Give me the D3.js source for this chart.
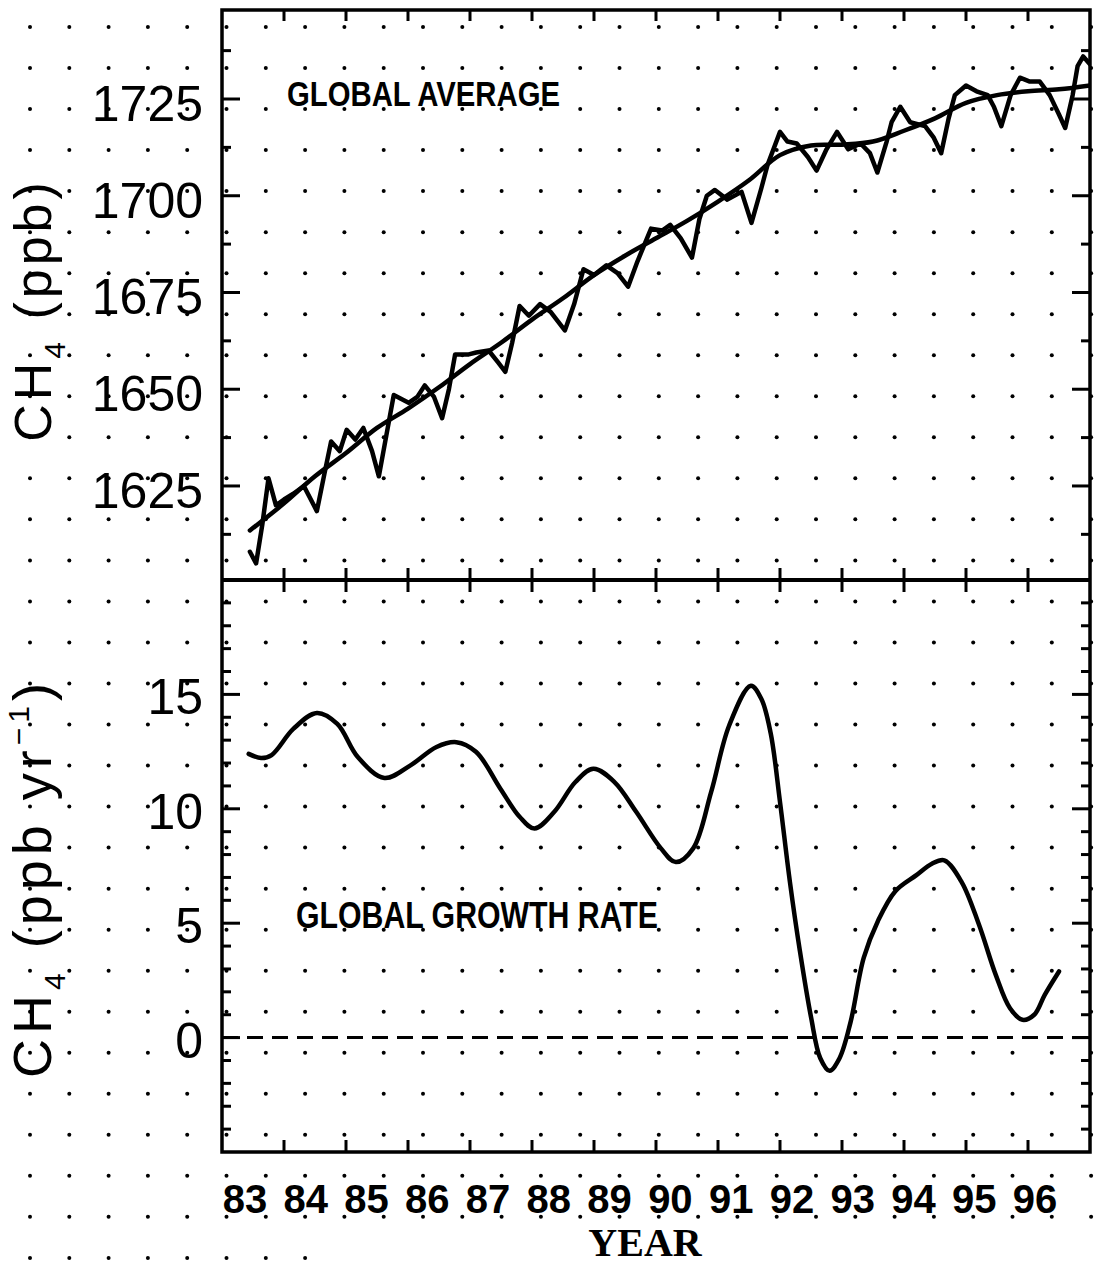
<!DOCTYPE html>
<html>
<head>
<meta charset="utf-8">
<script src="https://cdn.jsdelivr.net/npm/d3@7"></script>
<style>
  html, body { margin: 0; padding: 0; background: #fff; }
  svg { display: block; }
</style>
</head>
<body>
<svg id="chart" width="1097" height="1264"></svg>
<script>
// ---- Data -------------------------------------------------------------
// Year ticks along the shared time axis
const years = [1984, 1985, 1986, 1987, 1988, 1989, 1990, 1991, 1992, 1993, 1994, 1995, 1996];
const yearLabels = ["83", "84", "85", "86", "87", "88", "89", "90", "91", "92", "93", "94", "95", "96"];
const labelYears = [1983, 1984, 1985, 1986, 1987, 1988, 1989, 1990, 1991, 1992, 1993, 1994, 1995, 1996];

// Global average CH4 (ppb), individual values
const avgYear = [1983.45, 1983.55, 1983.65, 1983.75, 1983.87, 1984.0, 1984.15, 1984.32, 1984.53, 1984.65,
  1984.76, 1984.9, 1985.01, 1985.15, 1985.28, 1985.42, 1985.53, 1985.65, 1985.77, 1986.01,
  1986.15, 1986.27, 1986.42, 1986.55, 1986.66, 1986.76, 1986.98, 1987.1, 1987.3, 1987.45,
  1987.57, 1987.68, 1987.8, 1987.95, 1988.13, 1988.3, 1988.53, 1988.68, 1988.83, 1989.0,
  1989.2, 1989.38, 1989.55, 1989.7, 1989.92, 1990.1, 1990.23, 1990.4, 1990.58, 1990.7,
  1990.82, 1990.95, 1991.15, 1991.38, 1991.54, 1991.7, 1991.8, 1992.0, 1992.12, 1992.27,
  1992.45, 1992.59, 1992.75, 1992.92, 1993.1, 1993.3, 1993.45, 1993.57, 1993.72, 1993.8,
  1993.94, 1994.1, 1994.34, 1994.48, 1994.6, 1994.72, 1994.82, 1995.0, 1995.17, 1995.35,
  1995.45, 1995.57, 1995.72, 1995.87, 1996.03, 1996.19, 1996.35, 1996.5, 1996.6, 1996.72,
  1996.8, 1996.89, 1997.0];
const avgPpb = [1608, 1605, 1615, 1627, 1620, 1621.5, 1623, 1625, 1618.5, 1628,
  1636.5, 1634, 1639.5, 1637, 1640, 1634, 1627.5, 1638, 1648.5, 1646.5,
  1648, 1651, 1648, 1642.5, 1650, 1659, 1659, 1659.5, 1660, 1657,
  1654.5, 1662, 1671.5, 1669, 1672, 1670, 1665.2, 1672, 1681, 1679.5,
  1682, 1680, 1676.5, 1683, 1691.5, 1691, 1692.5, 1689, 1684, 1694,
  1700, 1701.5, 1699, 1701, 1693, 1702, 1708, 1716.5, 1714, 1713.5,
  1710, 1706.5, 1712, 1716.5, 1712, 1713.5, 1711, 1706, 1714, 1719,
  1723, 1719, 1718, 1715, 1711, 1720, 1726, 1728.5, 1727, 1726,
  1723, 1718, 1726, 1730.5, 1729.5, 1729.5, 1726, 1721, 1717.5, 1726,
  1733.5, 1736, 1734];

// Smoothed trend of the global average (ppb)
const trendYear = [1983.45, 1984.0, 1984.5, 1985.0, 1985.5, 1986.0, 1986.5, 1987.0, 1987.5, 1988.0,
  1988.5, 1989.0, 1989.5, 1990.0, 1990.5, 1991.0, 1991.5, 1992.0, 1992.5, 1993.0,
  1993.5, 1994.0, 1994.5, 1995.0, 1995.5, 1996.0, 1996.5, 1997.0];
const trendPpb = [1613.5, 1620.5, 1627.5, 1633.5, 1640, 1645, 1650.5, 1656.5, 1662, 1668,
  1673.5, 1679.5, 1684.5, 1689, 1693.5, 1698.5, 1704, 1710.5, 1713, 1713.2,
  1714, 1716.8, 1720, 1724, 1726, 1727, 1727.5, 1728.5];

// Global growth rate (ppb per year)
const rateYear = [1983.43, 1983.63, 1983.8, 1984.15, 1984.53, 1984.86, 1985.19, 1985.62, 1986.04, 1986.46,
  1986.78, 1987.1, 1987.49, 1987.8, 1988.04, 1988.36, 1988.7, 1988.99, 1989.33, 1989.68,
  1990.08, 1990.32, 1990.6, 1990.89, 1991.18, 1991.53, 1991.7, 1991.85, 1992.0, 1992.16,
  1992.32, 1992.5, 1992.65, 1992.8, 1992.96, 1993.14, 1993.35, 1993.58, 1993.86, 1994.2,
  1994.45, 1994.65, 1994.93, 1995.21, 1995.48, 1995.71, 1995.91, 1996.1, 1996.27, 1996.5];
const rateValue = [12.4, 12.22, 12.35, 13.49, 14.19, 13.71, 12.26, 11.35, 11.9, 12.7,
  12.91, 12.48, 10.88, 9.65, 9.14, 9.87, 11.17, 11.75, 11.17, 9.87,
  8.27, 7.67, 8.27, 10.74, 13.64, 15.38, 14.8, 13.3, 10.3, 6.8,
  3.8, 0.9, -0.9, -1.45, -0.9, 0.7, 3.48, 5.1, 6.4, 7.1,
  7.6, 7.75, 6.8, 4.93, 2.74, 1.28, 0.78, 1.0, 1.87, 2.89];

const ppbTicks = [1625, 1650, 1675, 1700, 1725];
const ppbMinor = [1612.5, 1637.5, 1662.5, 1687.5, 1712.5, 1737.5];
const rateTicks = [0, 5, 10, 15];
const rateMinor = d3.range(-4, 20).filter(v => v % 5 !== 0);

// ---- Layout -----------------------------------------------------------
const W = 1097, H = 1264;
const L = 222, R = 1090, T = 10, M = 580, B = 1152;

const svg = d3.select("#chart");
svg.append("rect").attr("width", W).attr("height", H).attr("fill", "#fff");

const x = d3.scaleLinear().domain([1983, 1997]).range([L, R]);
const yTop = d3.scaleLinear().domain([1600.7, 1748]).range([M, T]);
const yBot = d3.scaleLinear().domain([-5, 20]).range([B, M]);
// year numbers sit a little right of their ticks, drifting toward them
const xLabel = d3.scaleLinear().domain([1983, 1996]).range([245, 1035]);

// Dotted background grid across the whole sheet (last row trimmed at the sheet edge)
const dotX = d3.range(30, W, 39.3);
const dotY = d3.range(27, H, 41.03);
const dots = svg.append("g").attr("fill", "#000");
dotY.forEach((dy, r) => dotX.forEach(dx => {
  if (r === dotY.length - 1 && dx > 340) return;
  dots.append("circle").attr("cx", dx).attr("cy", dy).attr("r", 2);
}));

// ---- Axes -------------------------------------------------------------
function vTicks(scale, majors, minors) {
  const g = svg.append("g").attr("stroke", "#000").attr("stroke-width", 3);
  majors.forEach(v => {
    g.append("line").attr("x1", L).attr("x2", L + 18).attr("y1", scale(v)).attr("y2", scale(v));
    g.append("line").attr("x1", R).attr("x2", R - 18).attr("y1", scale(v)).attr("y2", scale(v));
  });
  minors.forEach(v => {
    g.append("line").attr("x1", L).attr("x2", L + 9).attr("y1", scale(v)).attr("y2", scale(v));
    g.append("line").attr("x1", R).attr("x2", R - 9).attr("y1", scale(v)).attr("y2", scale(v));
  });
}
vTicks(yTop, ppbTicks, ppbMinor);
vTicks(yBot, rateTicks, rateMinor);

const xt = svg.append("g").attr("stroke", "#000").attr("stroke-width", 3);
years.forEach(v => {
  xt.append("line").attr("x1", x(v)).attr("x2", x(v)).attr("y1", T).attr("y2", T + 11);
  xt.append("line").attr("x1", x(v)).attr("x2", x(v)).attr("y1", M - 12).attr("y2", M + 12);
  xt.append("line").attr("x1", x(v)).attr("x2", x(v)).attr("y1", B).attr("y2", B - 12);
});

// Frame and panel divider
svg.append("rect").attr("x", L).attr("y", T).attr("width", R - L).attr("height", B - T)
  .attr("fill", "none").attr("stroke", "#000").attr("stroke-width", 3.5);
svg.append("line").attr("x1", L).attr("x2", R).attr("y1", M).attr("y2", M)
  .attr("stroke", "#000").attr("stroke-width", 4);

// Zero line in the growth-rate panel
svg.append("line").attr("x1", L).attr("x2", R).attr("y1", yBot(0)).attr("y2", yBot(0))
  .attr("stroke", "#000").attr("stroke-width", 3).attr("stroke-dasharray", "16,9");

// Tick labels
const sans = "'Liberation Sans', Arial, Helvetica, sans-serif";
svg.append("g").selectAll("text").data(ppbTicks).join("text")
  .attr("x", 203).attr("y", d => yTop(d) + 22)
  .attr("text-anchor", "end").attr("font-family", sans).attr("font-size", 50)
  .text(d => d);
svg.append("g").selectAll("text").data(rateTicks).join("text")
  .attr("x", 203).attr("y", d => yBot(d) + 20)
  .attr("text-anchor", "end").attr("font-family", sans).attr("font-size", 50)
  .text(d => d);
svg.append("g").selectAll("text").data(labelYears).join("text")
  .attr("x", d => xLabel(d)).attr("y", 1213)
  .attr("text-anchor", "middle").attr("font-family", sans).attr("font-weight", "bold")
  .attr("font-size", 40)
  .text((d, i) => yearLabels[i]);

svg.append("text").attr("x", 645).attr("y", 1256)
  .attr("text-anchor", "middle").attr("font-family", "'Liberation Serif', 'Times New Roman', serif")
  .attr("font-weight", "bold").attr("font-size", 40).text("YEAR");

// Axis titles
function yTitle(cy, size, spacing, unitParts) {
  const t = svg.append("text")
    .attr("transform", `translate(51,${cy}) rotate(-90)`)
    .attr("text-anchor", "middle").attr("font-family", sans).attr("font-size", size)
    .attr("letter-spacing", spacing);
  t.append("tspan").text("CH");
  t.append("tspan").attr("font-size", 30).attr("dy", 14).text("4");
  t.append("tspan").attr("dy", -14).text(" " + unitParts[0]);
  if (unitParts.length > 1) {
    t.append("tspan").attr("font-size", 30).attr("dy", -22).text(unitParts[1]);
    t.append("tspan").attr("dy", 22).text(unitParts[2]);
  }
}
yTitle(310, 52, 4, ["(ppb)"]);
yTitle(878, 54, 5, ["(ppb yr", "\u22121", ")"]);

// Panel captions
const condensed = "'Liberation Sans', Arial, sans-serif";
svg.append("text").attr("x", 287).attr("y", 106)
  .attr("font-family", condensed).attr("font-weight", "bold").attr("font-size", 35)
  .attr("textLength", 273).attr("lengthAdjust", "spacingAndGlyphs")
  .text("GLOBAL AVERAGE");
svg.append("text").attr("x", 296).attr("y", 928)
  .attr("font-family", condensed).attr("font-weight", "bold").attr("font-size", 36)
  .attr("textLength", 362).attr("lengthAdjust", "spacingAndGlyphs")
  .text("GLOBAL GROWTH RATE");

// ---- Series -----------------------------------------------------------
const avgData = avgYear.map((t, i) => [t, avgPpb[i]]);
const trendData = trendYear.map((t, i) => [t, trendPpb[i]]);
const rateData = rateYear.map((t, i) => [t, rateValue[i]]);

svg.append("clipPath").attr("id", "clipTop")
  .append("rect").attr("x", L).attr("y", T).attr("width", R - L).attr("height", M - T);

const topG = svg.append("g").attr("clip-path", "url(#clipTop)");
topG.append("path").datum(avgData)
  .attr("d", d3.line().x(d => x(d[0])).y(d => yTop(d[1])))
  .attr("fill", "none").attr("stroke", "#000").attr("stroke-width", 4.5)
  .attr("stroke-linejoin", "round").attr("stroke-linecap", "round");
topG.append("path").datum(trendData)
  .attr("d", d3.line().curve(d3.curveCatmullRom.alpha(0.5)).x(d => x(d[0])).y(d => yTop(d[1])))
  .attr("fill", "none").attr("stroke", "#000").attr("stroke-width", 4.5)
  .attr("stroke-linecap", "round");

svg.append("path").datum(rateData)
  .attr("d", d3.line().curve(d3.curveCatmullRom.alpha(0.5)).x(d => x(d[0])).y(d => yBot(d[1])))
  .attr("fill", "none").attr("stroke", "#000").attr("stroke-width", 4.5)
  .attr("stroke-linecap", "round").attr("stroke-linejoin", "round");
</script>
</body>
</html>
